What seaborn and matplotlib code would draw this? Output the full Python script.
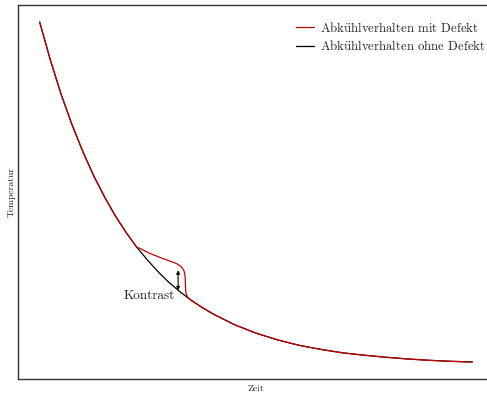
import matplotlib
matplotlib.use("Agg")
import matplotlib.pyplot as plt
import seaborn as sns
import pandas as pd

# Cooling curve without defect (time in arbitrary units, temperature in arbitrary units)
zeit_ohne = [0.0, 0.25, 0.5, 0.75, 1.0, 1.25, 1.5, 1.75, 2.0, 2.25, 2.5, 2.75,
             3.0, 3.25, 3.5, 3.75, 4.0, 4.5, 5.0, 5.5, 6.0, 6.5, 7.0, 7.5,
             8.0, 8.5, 9.0, 9.5, 10.0]
temp_ohne = [100.0, 88.7, 78.6, 69.7, 61.8, 54.7, 48.5, 42.9, 38.0, 33.6, 29.8, 26.3,
             23.2, 20.5, 18.1, 16.0, 14.1, 10.9, 8.4, 6.4, 4.8, 3.6, 2.6, 1.9,
             1.3, 0.8, 0.4, 0.1, -0.1]

# Cooling curve with defect: heat build-up between t~2.3 and t~3.4
zeit_mit = [0.0, 0.25, 0.5, 0.75, 1.0, 1.25, 1.5, 1.75, 2.0, 2.25, 2.29,
            2.54, 2.85, 3.16, 3.27, 3.33, 3.36, 3.37, 3.38, 3.42,
            3.5, 3.75, 4.0, 4.5, 5.0, 5.5, 6.0, 6.5, 7.0, 7.5,
            8.0, 8.5, 9.0, 9.5, 10.0]
temp_mit = [100.0, 88.7, 78.6, 69.7, 61.8, 54.7, 48.5, 42.9, 38.0, 33.6, 33.5,
            31.9, 30.35, 28.9, 28.0, 27.0, 25.45, 22.5, 20.2, 19.0,
            18.1, 16.0, 14.1, 10.9, 8.4, 6.4, 4.8, 3.6, 2.6, 1.9,
            1.3, 0.8, 0.4, 0.1, -0.1]

# Contrast arrow position and limits
kontrast_zeit = 3.2
kontrast_unten = 21.0
kontrast_oben = 26.9

labels = [r"Abk$\ddot{\mathrm{u}}$hlverhalten mit Defekt",
          r"Abk$\ddot{\mathrm{u}}$hlverhalten ohne Defekt"]

sns.set_theme(style="white")
plt.rcParams["font.family"] = ["cmr10", "DejaVu Serif"]
plt.rcParams["mathtext.fontset"] = "cm"
plt.rcParams["axes.formatter.use_mathtext"] = True

fig = plt.figure(figsize=(4.87, 3.94), dpi=100)
ax = fig.add_axes([18 / 487, 15 / 394, 476 / 487, 374 / 394])

df_ohne = pd.DataFrame({"Zeit": zeit_ohne, "Temperatur": temp_ohne})
df_mit = pd.DataFrame({"Zeit": zeit_mit, "Temperatur": temp_mit})

sns.lineplot(data=df_ohne, x="Zeit", y="Temperatur", ax=ax, color="black",
             lw=0.9, sort=False, label=labels[1])
sns.lineplot(data=df_mit, x="Zeit", y="Temperatur", ax=ax, color="#c00000",
             lw=0.9, sort=False, label=labels[0])

ax.annotate("", xy=(kontrast_zeit, kontrast_oben), xytext=(kontrast_zeit, kontrast_unten),
            arrowprops=dict(arrowstyle="<|-|>", color="black", lw=0.8,
                            mutation_scale=5, shrinkA=0, shrinkB=0))
ax.text(3.12, 18.4, "Kontrast", ha="right", va="baseline", fontsize=9.5)

ax.set_xticks([])
ax.set_yticks([])
ax.set_xlabel("Zeit", fontsize=7, labelpad=4)
ax.set_ylabel("Temperatur", fontsize=7, labelpad=2)
for s in ax.spines.values():
    s.set_color("#333333")
    s.set_linewidth(1.0)

handles, hl = ax.get_legend_handles_labels()
order = [hl.index(labels[0]), hl.index(labels[1])]
ax.legend([handles[i] for i in order], [hl[i] for i in order], loc="upper left",
          bbox_to_anchor=(296 / 487, 1 - 20.5 / 394), bbox_transform=fig.transFigure,
          frameon=False, fontsize=9.2, handlelength=1.4, handletextpad=0.47,
          labelspacing=0.35, borderaxespad=0, borderpad=0)

fig.savefig("out.png", dpi=100)
